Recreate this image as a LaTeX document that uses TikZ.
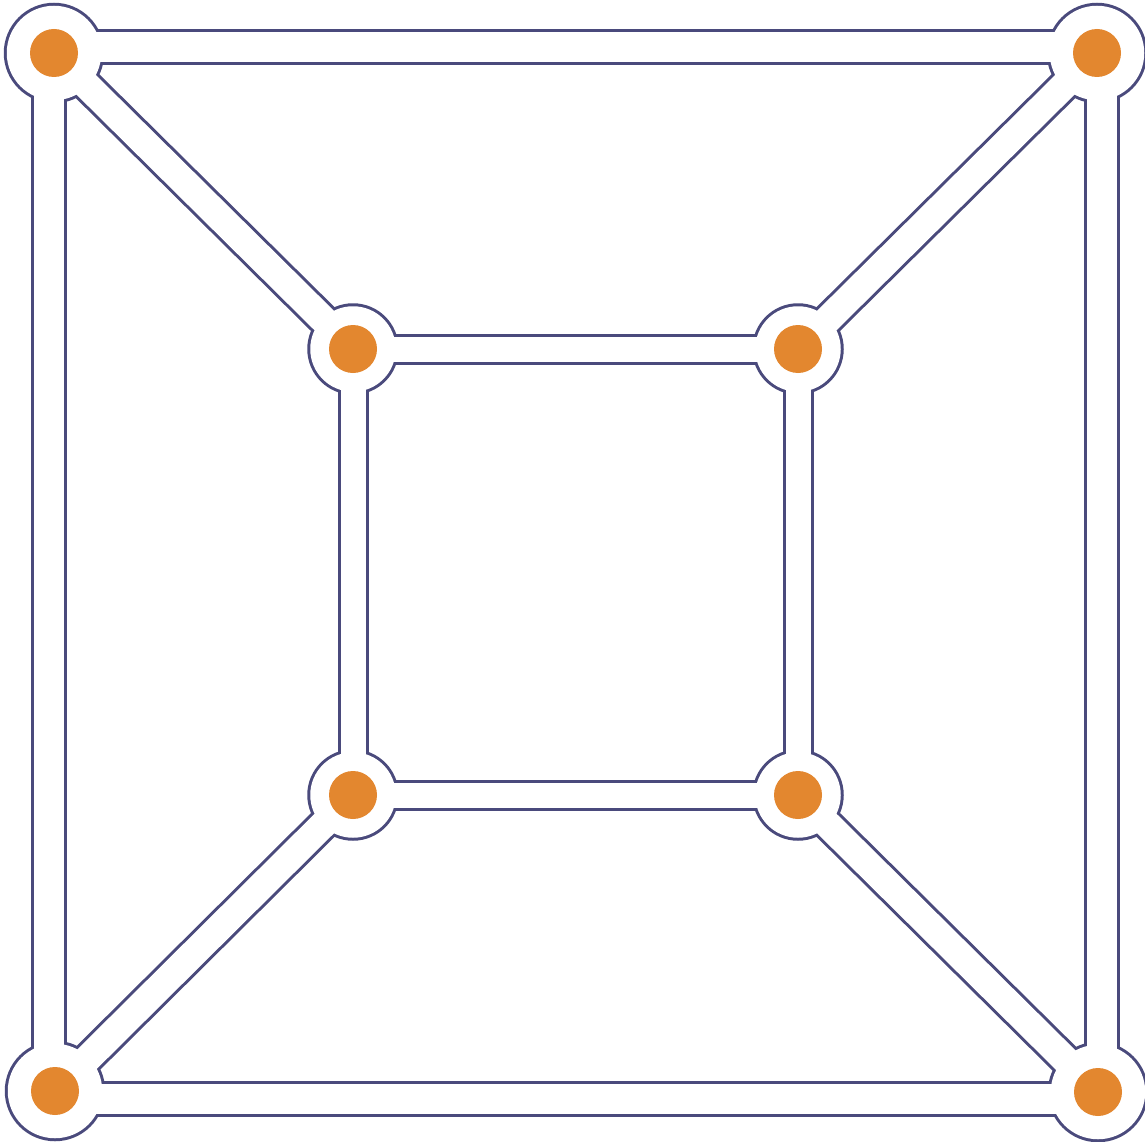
\documentclass[tikz,border=0pt]{standalone}
\definecolor{edgeblue}{HTML}{4A4A7C}
\definecolor{dotorange}{HTML}{E3872F}
\begin{document}
\begin{tikzpicture}[x=1pt,y=-1pt,
  outerdark/.style={draw=edgeblue,line width=35.5pt},
  outerwhite/.style={draw=white,line width=29.5pt},
  innerdark/.style={draw=edgeblue,line width=31pt},
  innerwhite/.style={draw=white,line width=25pt},
  diagdark/.style={draw=edgeblue,line width=33.5pt},
  diagwhite/.style={draw=white,line width=27.5pt},
  orangedot/.style={circle,fill=dotorange,inner sep=0pt,minimum size=48pt}
]
\useasboundingbox (0,0) rectangle (1145,1142);
% node centres
\coordinate (pA) at (54,53);
\coordinate (pB) at (1097,53);
\coordinate (pC) at (55,1091);
\coordinate (pD) at (1098,1092);
\coordinate (pa) at (353,349);
\coordinate (pb) at (798,349);
\coordinate (pc) at (353,795);
\coordinate (pd) at (798,795);
% outer square band corners
\coordinate (sA) at (49,47);
\coordinate (sB) at (1102,47);
\coordinate (sC) at (49,1099);
\coordinate (sD) at (1102,1099);
% dark pass
\draw[outerdark] (sA) -- (sB) -- (sD) -- (sC) -- cycle;
\draw[innerdark] (pa) -- (pb) -- (pd) -- (pc) -- cycle;
\draw[diagdark] (pA) -- (pa) (pB) -- (pb) (pC) -- (pc) (pD) -- (pd);
\foreach \p in {pA,pB,pC,pD} \fill[edgeblue] (\p) circle [radius=50.25pt];
\foreach \p in {pa,pb,pc,pd} \fill[edgeblue] (\p) circle [radius=45.75pt];
% white pass
\draw[outerwhite] (sA) -- (sB) -- (sD) -- (sC) -- cycle;
\draw[innerwhite] (pa) -- (pb) -- (pd) -- (pc) -- cycle;
\draw[diagwhite] (pA) -- (pa) (pB) -- (pb) (pC) -- (pc) (pD) -- (pd);
\foreach \p in {pA,pB,pC,pD} \fill[white] (\p) circle [radius=47.25pt];
\foreach \p in {pa,pb,pc,pd} \fill[white] (\p) circle [radius=42.75pt];
% orange dots
\node[orangedot] (A) at (pA) {};
\node[orangedot] (B) at (pB) {};
\node[orangedot] (C) at (pC) {};
\node[orangedot] (D) at (pD) {};
\node[orangedot] (a) at (pa) {};
\node[orangedot] (b) at (pb) {};
\node[orangedot] (c) at (pc) {};
\node[orangedot] (d) at (pd) {};
\end{tikzpicture}
\end{document}
